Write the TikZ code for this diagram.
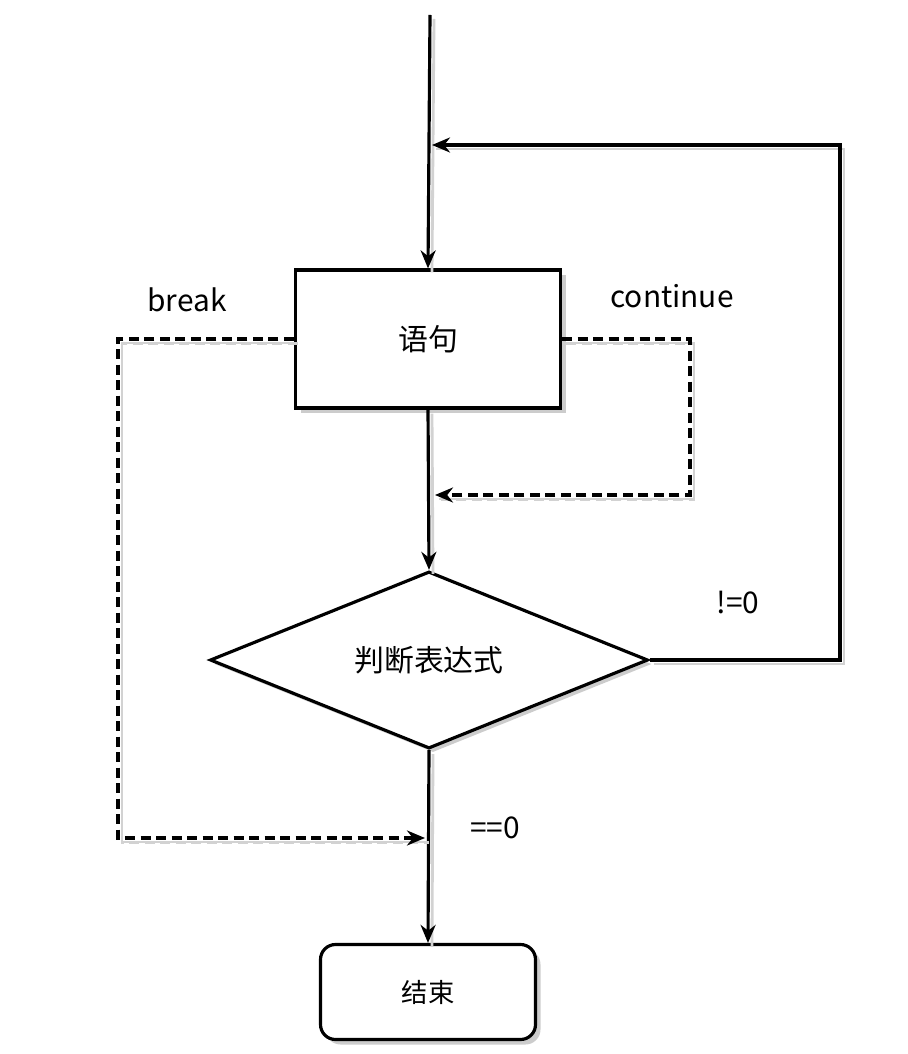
\documentclass[tikz,border=0pt]{standalone}
\usepackage{fontspec}
\usepackage{tikz}
\usetikzlibrary{arrows.meta,positioning,shapes.geometric,shadows}
\newfontfamily\cjk{Noto Sans CJK SC}

\begin{document}
\begin{tikzpicture}[
x=0.2mm, y=-0.2mm,
  > = {Stealth[length=3.6mm,width=3mm]},
box/.style = {draw, line width=1.8pt, fill=white,
              minimum width=53mm, minimum height=27.6mm,
              font=\cjk\fontsize{17}{20}\selectfont,
              drop shadow={shadow xshift=1mm, shadow yshift=-1mm,
                           fill=gray!40, opacity=1}},
endbox/.style = {box, rounded corners=3mm,
              minimum width=43mm, minimum height=19mm,
              font=\cjk\fontsize{15}{18}\selectfont,
              drop shadow={opacity=0}},
decision/.style = {draw, line width=1.8pt, fill=white, diamond,
              minimum width=87.6mm, minimum height=35.2mm, inner sep=0pt,
              font=\cjk\fontsize{17}{20}\selectfont,
              drop shadow={shadow xshift=0.8mm, shadow yshift=-0.8mm,
                           fill=gray!40, opacity=1}},
line/.style = {line width=1.8pt,
              preaction={-, draw=gray!35, line width=1.6pt,
                         transform canvas={shift={(0.8mm,-0.8mm)}}}},
jump/.style = {line, dashed, dash pattern=on 2mm off 1.1mm,
              preaction={-, draw=gray!35, line width=1.6pt, dashed,
                         dash pattern=on 2mm off 1.1mm,
                         transform canvas={shift={(0.8mm,-0.9mm)}}}},
lbl/.style = {font=\cjk\fontsize{17}{20}\selectfont}
                ]
\useasboundingbox (0,0) rectangle (908,1054);

\node (stmt) [box] at (428,339) {语句};
\node (cond) [decision] at (429,660) {判断表达式};
\node (stop) [endbox] at (428,992) {结束};

\coordinate (top) at (430,15);
\coordinate (loopr) at (840,145);
\coordinate (entry) at (432,145);
\coordinate (cont) at (690,495);
\coordinate (contin) at (435,495);
\coordinate (brk) at (118,838);
\coordinate (brkin) at (425,838);

%% main flow
\draw [line,->] (top) -- (stmt.north);
\draw [line,->] (stmt.south) -- (cond.north);
\draw [line,->] (cond.south) -- (stop.north);
\draw [line,->] (cond.east) -| (loopr) -- (entry);

%% jumps
\draw [jump,->] (stmt.east) -| (cont) -- (contin);
\draw [jump,->] (stmt.west) -| (brk) -- (brkin);

\node [lbl] at (187,300) {break};
\node [lbl] at (672,296) {continue};
\node [lbl] at (738,603) {!=0};
\node [lbl] at (495,828) {==0};
\end{tikzpicture}
\end{document}
